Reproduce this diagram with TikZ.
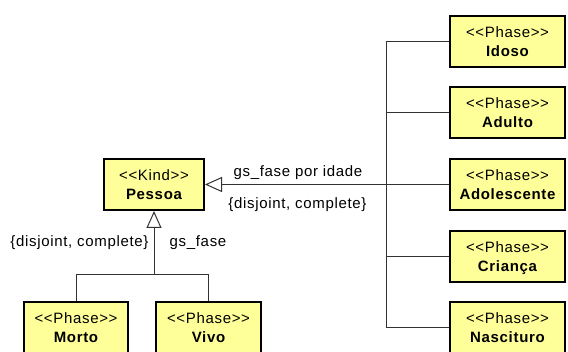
\documentclass[tikz,border=0pt]{standalone}
\usepackage{fontspec}
\setmainfont{Liberation Sans}[LetterSpace=4.5]
\usetikzlibrary{arrows.meta}
\definecolor{boxfill}{RGB}{255,255,153}
\definecolor{linecol}{RGB}{50,50,50}
\newcommand{\umlnode}[6]{%
  \node[umlbox, minimum width=#4pt] (#1) at (#2,#3) {};
  \node[stereo] (#1-st) at ([yshift=-22.7pt]#1.north) {#5};
  \node[cname] (#1-nm) at ([yshift=-41.7pt]#1.north) {#6};}
\begin{document}
\begin{tikzpicture}[x=1pt,y=-1pt,
  umlbox/.style={draw=black, line width=2pt, fill=boxfill, minimum height=51pt, inner sep=0pt},
  stereo/.style={anchor=base, inner sep=0pt, font=\fontsize{15}{17}\selectfont},
  cname/.style={anchor=base, inner sep=0pt, font=\fontsize{15}{17}\selectfont\bfseries},
  conn/.style={draw=linecol, line width=1pt},
  gen/.style={conn, -{Triangle[open, length=17pt, width=15pt, fill=white]}},
  lbl/.style={inner sep=0pt, font=\fontsize{15}{17}\selectfont}]
\useasboundingbox (0,0) rectangle (568,352);
% boxes
\umlnode{Pessoa}{154}{184.5}{100}{<{}<Kind>{}>}{Pessoa}
\umlnode{Idoso}{507.5}{41.5}{115}{<{}<Phase>{}>}{Idoso}
\umlnode{Adulto}{507.5}{112.5}{115}{<{}<Phase>{}>}{Adulto}
\umlnode{Adolescente}{507.5}{184.5}{115}{<{}<Phase>{}>}{Adolescente}
\umlnode{Crianca}{507.5}{256.5}{115}{<{}<Phase>{}>}{Criança}
\umlnode{Nascituro}{507.5}{327.5}{115}{<{}<Phase>{}>}{Nascituro}
\umlnode{Morto}{76}{327.5}{104}{<{}<Phase>{}>}{Morto}
\umlnode{Vivo}{208.5}{327.5}{105}{<{}<Phase>{}>}{Vivo}
% right generalization set
\coordinate (jr) at (386,184.5);
\draw[conn] (Idoso.west) -- (Idoso.west -| jr) -- (Nascituro.west -| jr) -- (Nascituro.west);
\draw[conn] (Adulto.west) -- (Adulto.west -| jr);
\draw[conn] (Adolescente.west) -- (Adolescente.west -| jr);
\draw[conn] (Crianca.west) -- (Crianca.west -| jr);
\draw[gen] (jr) -- (Pessoa.east);
% bottom generalization set
\coordinate (jb) at (154,275);
\draw[conn] (Morto.north) -- (Morto.north |- jb) -- (Vivo.north |- jb) -- (Vivo.north);
\draw[gen] (jb) -- (Pessoa.south);
% labels
\node[lbl] (l1) at (298,173) {gs\_fase por idade};
\node[lbl] (l2) at (297.5,205) {\{disjoint, complete\}};
\node[lbl] (l3) at (79.5,243) {\{disjoint, complete\}};
\node[lbl] (l4) at (198,243) {gs\_fase};
\end{tikzpicture}
\end{document}
